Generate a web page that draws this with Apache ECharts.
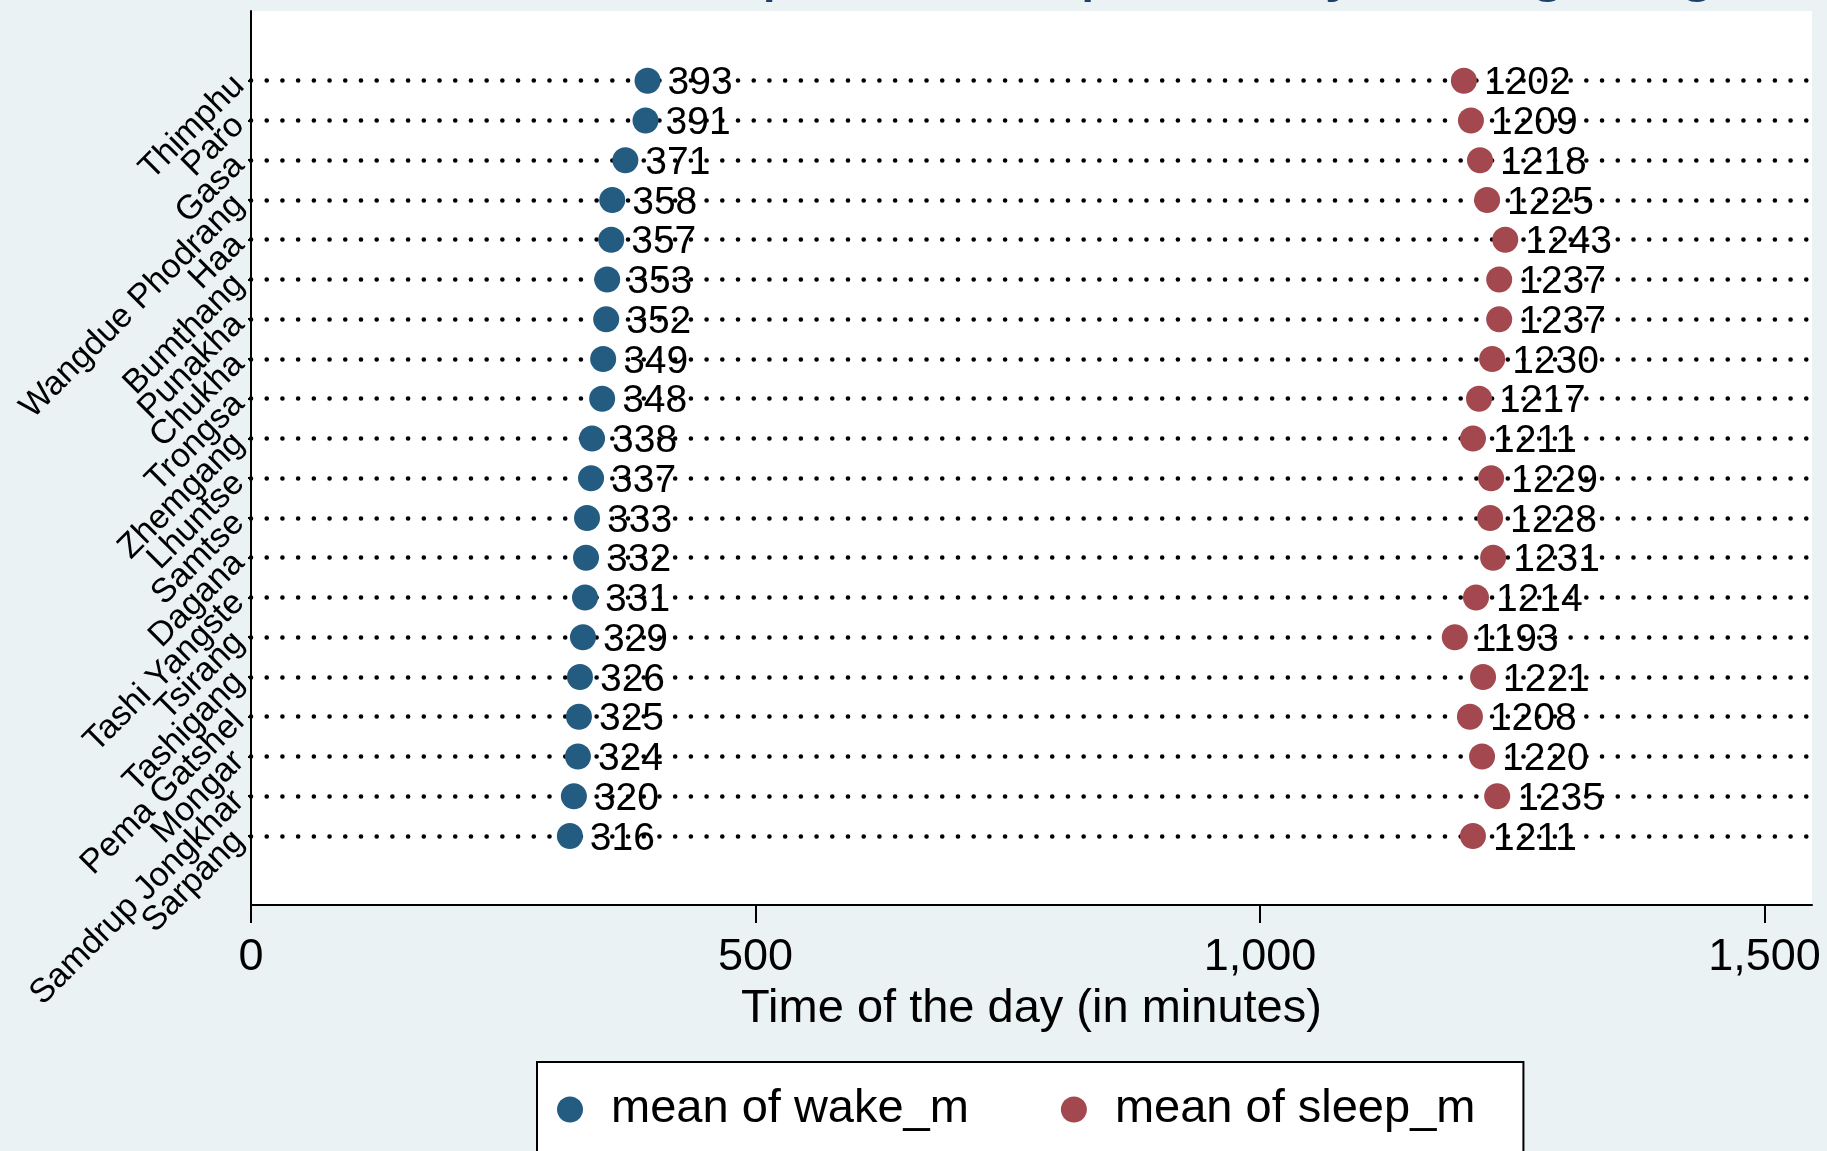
<!DOCTYPE html>
<html>
<head>
<meta charset="utf-8">
<style>
  html, body { margin: 0; padding: 0; background: #eaf2f3; }
  #chart { width: 1827px; height: 1151px; }
</style>
<script src="https://cdn.jsdelivr.net/npm/echarts@6/dist/echarts.min.js"></script>
</head>
<body>
<div id="chart"></div>
<script>
// Districts, ordered top to bottom
const districts = [
  'Thimphu', 'Paro', 'Gasa', 'Wangdue Phodrang', 'Haa', 'Bumthang', 'Punakha',
  'Chukha', 'Trongsa', 'Zhemgang', 'Lhuntse', 'Samtse', 'Dagana', 'Tashi Yangste',
  'Tsirang', 'Tashigang', 'Pema Gatshel', 'Mongar', 'Samdrup Jongkhar', 'Sarpang'
];

// Mean wake-up time (minutes after midnight)
const wakeMinutes = [393, 391, 371, 358, 357, 353, 352, 349, 348, 338,
                     337, 333, 332, 331, 329, 326, 325, 324, 320, 316];

// Mean sleep time (minutes after midnight)
const sleepMinutes = [1202, 1209, 1218, 1225, 1243, 1237, 1237, 1230, 1217, 1211,
                      1229, 1228, 1231, 1214, 1193, 1221, 1208, 1220, 1235, 1211];

const xTicks = [0, 500, 1000, 1500];
const seriesNames = ['mean of wake_m', 'mean of sleep_m'];
const titleText = 'Mean wake-up and sleep time by dzongkhag';
const xTitle = 'Time of the day (in minutes)';

const FONT = '"Liberation Sans", Helvetica, Arial, sans-serif';
const rowIdx = districts.map((_, i) => i);

// Row axis extent: a margin of about 1.75 rows above the first and below the last row
const Y_MIN = -1.753;
const Y_MAX = 20.736;
// Blank end labels so that no district name counts as the axis min/max label
const yLabelValues = [Y_MIN].concat(rowIdx, [Y_MAX]);

const chart = echarts.init(document.getElementById('chart'), null, { renderer: 'canvas' });

function valueLabel(fontSize) {
  return {
    show: true,
    position: 'right',
    distance: 7,
    offset: [0, 3],
    color: '#000',
    fontFamily: FONT,
    fontSize: fontSize,
    formatter: p => String(p.value[0])
  };
}

chart.setOption({
  backgroundColor: '#eaf2f3',
  animation: false,
  graphic: [{
    type: 'text',
    x: 1032,
    y: -31,
    z: 100,
    style: {
      text: titleText,
      align: 'center',
      verticalAlign: 'middle',
      fill: '#1c3f6b',
      font: '69px ' + FONT
    }
  }],
  grid: {
    left: 251, right: 15, top: 11, bottom: 246,
    show: true, backgroundColor: '#ffffff', borderWidth: 0
  },
  legend: {
    left: 537, top: 1062,
    orient: 'horizontal',
    icon: 'circle',
    itemWidth: 26, itemHeight: 26,
    itemGap: 92,
    backgroundColor: '#ffffff',
    borderColor: '#000000',
    borderWidth: 2,
    padding: [24, 48, 60, 20],
    data: seriesNames,
    textStyle: {
      color: '#000', fontFamily: FONT, fontSize: 47,
      padding: [5, 0, 0, 23]
    }
  },
  xAxis: {
    type: 'value',
    min: 0, max: 1547,
    name: xTitle,
    nameLocation: 'middle',
    nameGap: 81,
    nameTextStyle: { color: '#000', fontFamily: FONT, fontSize: 47 },
    axisLine: { show: true, onZero: false, lineStyle: { color: '#000', width: 2 } },
    axisTick: { show: true, length: 18, lineStyle: { color: '#000', width: 2 }, customValues: xTicks },
    axisLabel: {
      color: '#000', fontFamily: FONT, fontSize: 45, margin: 30,
      customValues: xTicks,
      formatter: v => Number(v).toLocaleString('en-US')
    },
    splitLine: { show: false }
  },
  yAxis: {
    type: 'value',
    inverse: true,
    min: Y_MIN, max: Y_MAX,
    axisLine: { show: true, onZero: false, lineStyle: { color: '#000', width: 2 } },
    axisTick: { show: true, length: 3, lineStyle: { color: '#000', width: 2 }, customValues: rowIdx },
    axisLabel: {
      color: '#000', fontFamily: FONT, fontSize: 34, rotate: 45, margin: 12,
      hideOverlap: false,
      customValues: yLabelValues,
      formatter: v => (Number.isInteger(v) ? districts[v] : '') || ''
    },
    splitLine: { show: false }
  },
  series: [
    {
      name: seriesNames[0],
      type: 'scatter',
      symbol: 'circle',
      symbolSize: 26,
      itemStyle: { color: '#245b81', opacity: 1 },
      label: valueLabel(39),
      data: wakeMinutes.map((v, i) => [v, i]),
      z: 3,
      markLine: {
        silent: true,
        symbol: 'none',
        z: 1,
        label: { show: false },
        lineStyle: { color: '#000', width: 4.6, type: [0.01, 15.7], cap: 'round' },
        emphasis: { disabled: true },
        data: rowIdx.map(i => ({ yAxis: i }))
      }
    },
    {
      name: seriesNames[1],
      type: 'scatter',
      symbol: 'circle',
      symbolSize: 26,
      itemStyle: { color: '#a3484e', opacity: 1 },
      label: valueLabel(39),
      data: sleepMinutes.map((v, i) => [v, i]),
      z: 3
    }
  ]
});
</script>
</body>
</html>
